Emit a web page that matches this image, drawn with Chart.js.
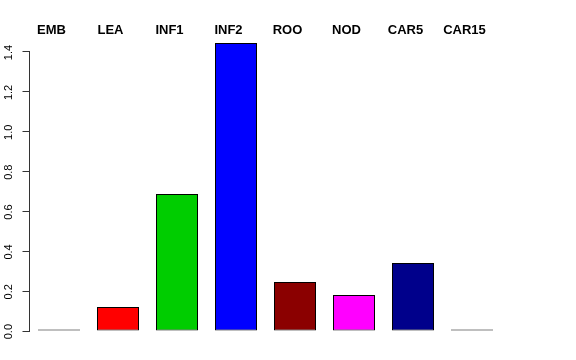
<!DOCTYPE html>
<html>
<head>
<meta charset="utf-8">
<style>
    html, body { margin: 0; padding: 0; background: #fff; }
</style>
</head>
<body>
<canvas id="bar-chart" width="576" height="360"></canvas>
<script src="https://cdn.jsdelivr.net/npm/chart.js"></script>
<script>
    // data
    var categories = ['EMB', 'LEA', 'INF1', 'INF2', 'ROO', 'NOD', 'CAR5', 'CAR15'];
    var values = [0, 0.12, 0.687, 1.445, 0.246, 0.18, 0.341, 0];
    var barColors = ['#000000', '#FF0000', '#00CD00', '#0000FF', '#8B0000', '#FF00FF', '#00008B', '#000000'];
    var yTicks = [0, 0.2, 0.4, 0.6, 0.8, 1.0, 1.2, 1.4];

    Chart.defaults.font.family = '"Liberation Sans", Arial, sans-serif';
    Chart.defaults.color = '#000';

    // R style axis line, only from first to last tick
    var axisLine = {
        id: 'axisLine',
        afterDraw: function(chart) {
            var ys = chart.scales.y;
            var ctx = chart.ctx;
            ctx.save();
            ctx.strokeStyle = '#333';
            ctx.lineWidth = 1;
            ctx.beginPath();
            ctx.moveTo(ys.right, ys.getPixelForValue(yTicks[0]));
            ctx.lineTo(ys.right, ys.getPixelForValue(yTicks[yTicks.length - 1]));
            ctx.stroke();
            ctx.restore();
        }
    };

    var ctx = document.getElementById('bar-chart').getContext('2d');
    var myChart = new Chart(ctx, {
        type: 'bar',
        data: {
            labels: categories,
            datasets: [{
                data: values,
                backgroundColor: barColors,
                borderColor: '#000',
                borderWidth: 1,
                borderSkipped: false,
                inflateAmount: 0,
                minBarLength: 1.5,
                barPercentage: 0.712,
                categoryPercentage: 1.0
            }]
        },
        options: {
            responsive: false,
            animation: false,
            layout: { padding: { top: 0, right: 74.5, bottom: 29, left: 0 } },
            plugins: {
                legend: { display: false },
                tooltip: { enabled: false }
            },
            scales: {
                x: {
                    position: 'top',
                    grid: { display: false, drawTicks: false },
                    border: { display: false },
                    ticks: {
                        font: { size: 13, weight: 'bold' },
                        color: '#000',
                        padding: -1,
                        labelOffset: -7.5,
                        maxRotation: 0,
                        autoSkip: false
                    },
                    afterFit: function(scale) { scale.height = 37; }
                },
                y: {
                    min: 0,
                    max: 1.475,
                    grid: { drawOnChartArea: false, drawTicks: true, tickLength: 7, color: '#333' },
                    border: { display: false },
                    ticks: {
                        font: { size: 11 },
                        color: '#000',
                        minRotation: 90,
                        maxRotation: 90,
                        padding: 14,
                        labelOffset: -7,
                        callback: function(v) { return v.toFixed(1); }
                    },
                    afterBuildTicks: function(scale) {
                        scale.ticks = yTicks.map(function(v) { return { value: v }; });
                    },
                    afterFit: function(scale) { scale.width = 29.5; }
                }
            }
        },
        plugins: [axisLine]
    });
</script>
</body>
</html>
